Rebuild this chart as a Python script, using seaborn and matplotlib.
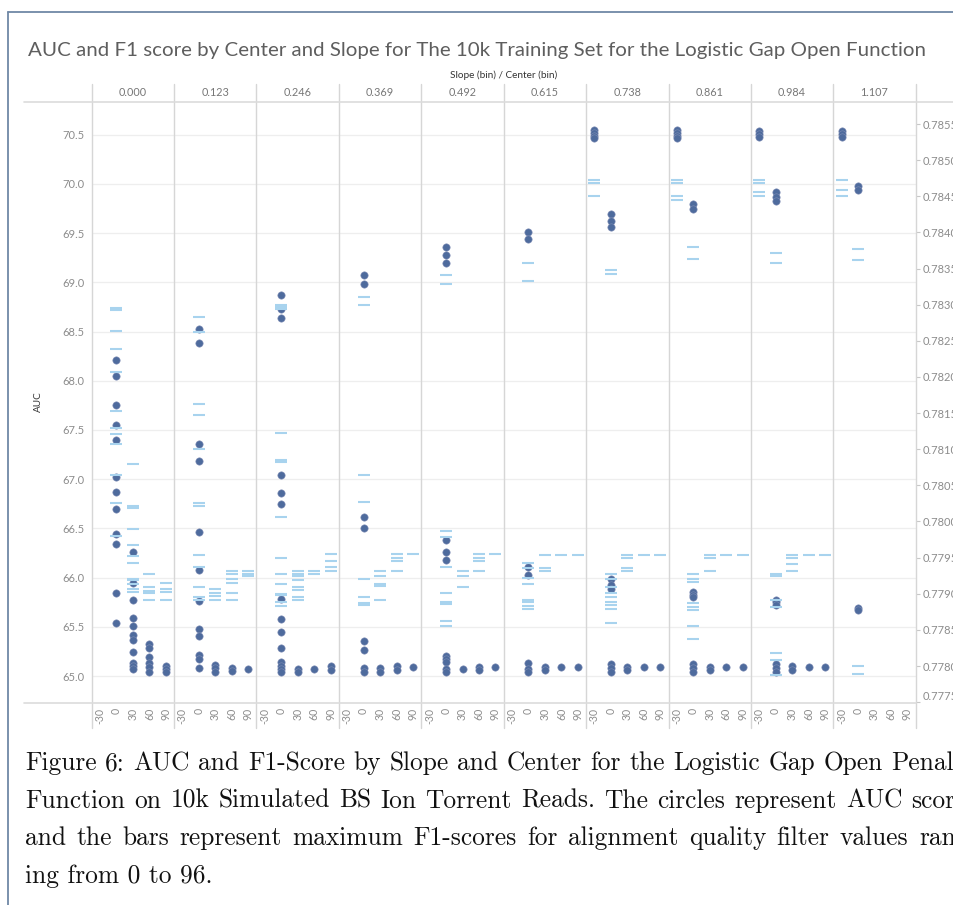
import numpy as np
import pandas as pd
import matplotlib
matplotlib.use("Agg")
import matplotlib.pyplot as plt
from matplotlib.lines import Line2D
import seaborn as sns

# ---------------- data ----------------
slopes = ["0.000", "0.123", "0.246", "0.369", "0.492", "0.615", "0.738", "0.861", "0.984", "1.107"]
centers = [-30, 0, 30, 60, 90]

auc_000 = {0: [68.21, 68.05, 67.75, 67.55, 67.40, 67.02, 66.87, 66.70, 66.44, 66.34, 65.84, 65.54],
           30: [66.26, 65.95, 65.77, 65.59, 65.51, 65.42, 65.37, 65.24, 65.13, 65.10, 65.07],
           60: [65.33, 65.28, 65.19, 65.13, 65.09, 65.04],
           90: [65.10, 65.07, 65.04]}
f1_000 = {0: [0.78296, 0.78293, 0.78263, 0.78239, 0.78207, 0.78153, 0.78129, 0.78121, 0.78107, 0.78065, 0.78025, 0.77980],
          30: [0.78080, 0.78021, 0.78019, 0.77990, 0.77967, 0.77952, 0.77943, 0.77921, 0.77919, 0.77914, 0.77906, 0.77902],
          60: [0.77928, 0.77910, 0.77904, 0.77901, 0.77891],
          90: [0.77915, 0.77907, 0.77902, 0.77891]}

auc_123 = {0: [68.53, 68.38, 67.36, 67.19, 66.46, 66.08, 65.76, 65.48, 65.41, 65.21, 65.17, 65.08],
           30: [65.11, 65.08, 65.04],
           60: [65.08, 65.05],
           90: [65.07]}
f1_123 = {0: [0.78283, 0.78262, 0.78163, 0.78148, 0.78100, 0.78025, 0.78022, 0.77953, 0.77937, 0.77910, 0.77895, 0.77891],
          30: [0.77906, 0.77901, 0.77897, 0.77891],
          60: [0.77932, 0.77928, 0.77920, 0.77915, 0.77901, 0.77891],
          90: [0.77932, 0.77928, 0.77924]}

auc_246 = {0: [68.87, 68.73, 68.64, 67.04, 66.86, 66.75, 65.78, 65.58, 65.45, 65.28, 65.14, 65.10, 65.07, 65.04],
           30: [65.07, 65.04],
           60: [65.07],
           90: [65.10, 65.06]}
f1_246 = {0: [0.78300, 0.78297, 0.78294, 0.78123, 0.78085, 0.78082, 0.78006, 0.77950, 0.77927, 0.77914, 0.77900, 0.77898, 0.77888, 0.77883],
          30: [0.77932, 0.77928, 0.77924, 0.77919, 0.77910, 0.77905, 0.77896, 0.77891],
          60: [0.77931, 0.77927],
          90: [0.77955, 0.77945, 0.77937, 0.77932]}

auc_369 = {0: [69.08, 68.98, 66.62, 66.50, 65.36, 65.26, 65.08, 65.04],
           30: [65.08, 65.04],
           60: [65.10, 65.06],
           90: [65.09]}
f1_369 = {0: [0.78310, 0.78300, 0.78064, 0.78027, 0.77921, 0.77895, 0.77887, 0.77884],
          30: [0.77932, 0.77924, 0.77914, 0.77911, 0.77891],
          60: [0.77955, 0.77950, 0.77945, 0.77932],
          90: [0.77955]}

auc_492 = {0: [69.36, 69.28, 69.20, 66.38, 66.26, 66.18, 65.20, 65.17, 65.14, 65.07, 65.04],
           30: [65.07],
           60: [65.09, 65.06],
           90: [65.09]}
f1_492 = {0: [0.78341, 0.78328, 0.77987, 0.77979, 0.77937, 0.77901, 0.77889, 0.77886, 0.77862, 0.77856],
          30: [0.77932, 0.77924, 0.77910],
          60: [0.77955, 0.77950, 0.77945, 0.77932],
          90: [0.77955]}

auc_615 = {0: [69.51, 69.44, 66.11, 66.03, 65.13, 65.07, 65.04],
           30: [65.09, 65.06],
           60: [65.09],
           90: [65.09]}
f1_615 = {0: [0.78358, 0.78333, 0.77942, 0.77935, 0.77922, 0.77914, 0.77891, 0.77888, 0.77883, 0.77879],
          30: [0.77954, 0.77936, 0.77932],
          60: [0.77954],
          90: [0.77954]}

auc_738 = {-30: [70.55, 70.52, 70.49, 70.47],
           0: [69.69, 69.62, 69.56, 65.99, 65.93, 65.88, 65.12, 65.08, 65.04],
           30: [65.09, 65.06],
           60: [65.09],
           90: [65.09]}
f1_738 = {-30: [0.78473, 0.78469, 0.78450],
          0: [0.78348, 0.78343, 0.77927, 0.77921, 0.77910, 0.77901, 0.77896, 0.77889, 0.77884, 0.77879, 0.77860],
          30: [0.77954, 0.77950, 0.77936, 0.77932],
          60: [0.77954],
          90: [0.77954]}

auc_861 = {-30: [70.55, 70.52, 70.49, 70.47],
           0: [69.80, 69.75, 65.85, 65.82, 65.80, 65.12, 65.08, 65.04],
           30: [65.09, 65.06],
           60: [65.09],
           90: [65.09]}
f1_861 = {-30: [0.78473, 0.78469, 0.78450, 0.78445],
          0: [0.78380, 0.78363, 0.77927, 0.77921, 0.77916, 0.77887, 0.77882, 0.77878, 0.77856, 0.77837],
          30: [0.77954, 0.77950, 0.77932],
          60: [0.77954],
          90: [0.77954]}

auc_984 = {-30: [70.54, 70.51, 70.48],
           0: [69.92, 69.87, 69.83, 65.77, 65.75, 65.72, 65.12, 65.08, 65.04],
           30: [65.10, 65.06],
           60: [65.09],
           90: [65.09]}
f1_984 = {-30: [0.78473, 0.78469, 0.78456, 0.78450],
          0: [0.78372, 0.78358, 0.77927, 0.77924, 0.77891, 0.77882, 0.77818, 0.77808, 0.77787],
          30: [0.77954, 0.77950, 0.77941, 0.77932],
          60: [0.77954],
          90: [0.77954]}

auc_1107 = {-30: [70.54, 70.51, 70.48],
            0: [69.98, 69.94, 65.69, 65.67]}
f1_1107 = {-30: [0.78473, 0.78459, 0.78450],
           0: [0.78377, 0.78362, 0.77800, 0.77789]}

auc_by_slope = [auc_000, auc_123, auc_246, auc_369, auc_492, auc_615, auc_738, auc_861, auc_984, auc_1107]
f1_by_slope = [f1_000, f1_123, f1_246, f1_369, f1_492, f1_615, f1_738, f1_861, f1_984, f1_1107]

auc_ticks = [65.0, 65.5, 66.0, 66.5, 67.0, 67.5, 68.0, 68.5, 69.0, 69.5, 70.0, 70.5]
f1_ticks = [0.7775, 0.7780, 0.7785, 0.7790, 0.7795, 0.7800, 0.7805, 0.7810, 0.7815,
            0.7820, 0.7825, 0.7830, 0.7835, 0.7840, 0.7845, 0.7850, 0.7855]

title_text = "AUC and F1 score by Center and Slope for The 10k Training Set for the Logistic Gap Open Function"
cap_lines = [
    "Figure 6: AUC and F1-Score by Slope and Center for the Logistic Gap Open Penalty",
    "Function on 10k Simulated BS Ion Torrent Reads. The circles represent AUC scores",
    "and the bars represent maximum F1-scores for alignment quality filter values rang-",
    "ing from 0 to 96.",
]


def to_long(series_list, name):
    rows = []
    for s, d in zip(slopes, series_list):
        for c, vals in d.items():
            for v in vals:
                rows.append((s, c, v))
    df = pd.DataFrame(rows, columns=["Slope", "Center", name])
    df["pos"] = pd.Categorical(df["Center"], categories=centers).codes
    return df


auc_df = to_long(auc_by_slope, "AUC")
f1_df = to_long(f1_by_slope, "F1")

# ---------------- style ----------------
sns.set_theme(style="white")
plt.rcParams["font.family"] = ["Lato", "DejaVu Sans"]

W, H = 954, 905
fig = plt.figure(figsize=(W / 100, H / 100), dpi=100)


def fx(x):
    return x / W


def fy(y):
    return 1 - y / H


plot_left, panel_w, plot_top, plot_bot = 91.7, 82.4, 101.7, 702.5
auc_lim = (64.731, 70.836)
f1_lim = (0.777495, 0.785809)

grey_txt = "#8c8c8c"
sep_col = "#d6d6d6"
dot_col = "#4e6b9d"
bar_col = "#a8d3ee"

n = len(slopes)
for i, s in enumerate(slopes):
    ax = fig.add_axes([fx(plot_left + panel_w * i), fy(plot_bot), panel_w / W, (plot_bot - plot_top) / H])
    sub = auc_df[auc_df.Slope == s]
    sns.scatterplot(data=sub, x="pos", y="AUC", ax=ax, color=dot_col, s=28,
                    edgecolor="#7f8db5", linewidth=0.4, legend=False, zorder=3)
    ax.set_xlim(-0.5, 4.5)
    ax.set_ylim(*auc_lim)
    ax.set_yticks(auc_ticks)
    ax.grid(axis="y", color="#eeeeee", lw=0.9)
    ax.grid(axis="x", visible=False)
    ax.set_axisbelow(True)
    ax.set_xticks(range(len(centers)))
    ax.set_xticklabels([str(c) for c in centers], rotation=90, fontsize=7.6, color=grey_txt)
    ax.tick_params(axis="x", length=0, pad=4)
    ax.set_xticks([k + 0.5 for k in range(len(centers) - 1)], minor=True)
    ax.tick_params(axis="x", which="minor", length=5, width=0.7, color="#e2e2e2", direction="out")
    ax.set_xlabel("")
    ax.set_ylabel("")
    if i == 0:
        ax.set_yticklabels([f"{t:.1f}" for t in auc_ticks], fontsize=8, color=grey_txt)
        ax.tick_params(axis="y", length=0, pad=5)
    else:
        ax.tick_params(axis="y", left=False, labelleft=False, length=0)
    for sp in ax.spines.values():
        sp.set_visible(False)

    ax2 = ax.twinx()
    subf = f1_df[f1_df.Slope == s]
    sns.scatterplot(data=subf, x="pos", y="F1", ax=ax2, marker="_", s=72,
                    color=bar_col, linewidth=1.5, legend=False, zorder=4)
    ax2.set_xlim(-0.5, 4.5)
    ax2.set_ylim(*f1_lim)
    ax2.set_ylabel("")
    ax2.grid(False)
    for sp in ax2.spines.values():
        sp.set_visible(False)
    if i == n - 1:
        ax2.set_yticks(f1_ticks)
        labs = ax2.set_yticklabels([f"{t:.4f}" for t in f1_ticks], fontsize=8, color=grey_txt)
        labs[0].set_va("bottom")
        ax2.tick_params(axis="y", right=True, length=3, width=0.8, color="#c8c8c8", pad=2)
    else:
        ax2.set_yticks([])

# separators and frame lines
for k in range(n + 1):
    xx = fx(plot_left + panel_w * k)
    fig.add_artist(Line2D([xx, xx], [fy(84), fy(728)], transform=fig.transFigure, color=sep_col, lw=1.0))
fig.add_artist(Line2D([fx(24), 1], [fy(plot_top), fy(plot_top)], transform=fig.transFigure, color="#dcdcdc", lw=1.2))
fig.add_artist(Line2D([fx(24), fx(plot_left + panel_w * n)], [fy(plot_bot), fy(plot_bot)],
                      transform=fig.transFigure, color="#dcdcdc", lw=1.2))
# outer frame of the worksheet
fig.add_artist(Line2D([fx(8), 1], [fy(12), fy(12)], transform=fig.transFigure, color="#7088a6", lw=1.3))
fig.add_artist(Line2D([fx(8), fx(8)], [fy(12), 0], transform=fig.transFigure, color="#7088a6", lw=1.3))

# header labels
for i, s in enumerate(slopes):
    fig.text(fx(plot_left + panel_w * (i + 0.5)), fy(93), s, ha="center", va="center",
             fontsize=7.8, color="#777777")
fig.text(fx(503.7), fy(75), "Slope (bin) / Center (bin)", ha="center", va="center",
         fontsize=7.2, color="#333333")
fig.text(fx(38), fy(402), "AUC", ha="center", va="center", rotation=90,
         fontsize=7.2, color="#333333")

renderer = fig.canvas.get_renderer()


def width_px(t):
    return t.get_window_extent(renderer).width


def fit(t, target_px):
    t.set_fontsize(t.get_fontsize() * target_px / width_px(t))


title = fig.text(fx(28), fy(56), title_text, ha="left", va="baseline", fontsize=14, color="#5e5e5e")
fit(title, 898)

# caption (LaTeX-like, justified)
probe = fig.text(fx(25), fy(770), "Figure 6: AUC and F1-Score by Slope and Center for the Logistic Gap Open Penal",
                 family="cmr10", fontsize=16, ha="left", va="baseline")
fit(probe, 927)
cap_size = probe.get_fontsize()
probe.set_text(cap_lines[0])
full_w = width_px(probe)
probe.remove()

x0 = 25
for j, line in enumerate(cap_lines):
    ybase = fy(770 + 37.6 * j)
    if j == len(cap_lines) - 1:
        fig.text(fx(x0), ybase, line, family="cmr10", fontsize=cap_size,
                 ha="left", va="baseline", color="#111111")
        continue
    words = line.split(" ")
    texts = [fig.text(0, ybase, w_, family="cmr10", fontsize=cap_size, ha="left",
                      va="baseline", color="#111111") for w_ in words]
    widths = [width_px(t) for t in texts]
    gap = (full_w - sum(widths)) / (len(words) - 1)
    xcur = x0
    for t, w_ in zip(texts, widths):
        t.set_x(fx(xcur))
        xcur += w_ + gap

fig.savefig("out.png", dpi=100)
